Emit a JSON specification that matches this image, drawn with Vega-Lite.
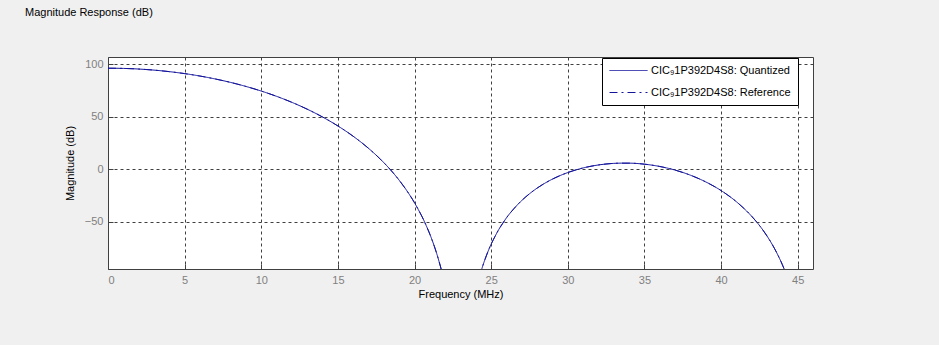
{
  "$schema": "https://vega.github.io/schema/vega-lite/v6.json",
  "autosize": "none",
  "width": 705,
  "height": 212,
  "padding": {"left": 108, "top": 57, "right": 126, "bottom": 76},
  "background": "#f0f0f0",
  "title": {
    "text": "Magnitude Response (dB)",
    "anchor": "start",
    "frame": "group",
    "dx": -83,
    "offset": 39,
    "font": "Liberation Sans",
    "fontSize": 11,
    "fontWeight": "normal",
    "color": "#000000"
  },
  "data": {
    "values": [
      {"f": 0, "db": 96.33}, {"f": 1, "db": 96.13}, {"f": 2, "db": 95.52}, {"f": 3, "db": 94.5},
      {"f": 4, "db": 93.05}, {"f": 5, "db": 91.18}, {"f": 6, "db": 88.86}, {"f": 7, "db": 86.06},
      {"f": 8, "db": 82.78}, {"f": 9, "db": 78.95}, {"f": 10, "db": 74.55}, {"f": 11, "db": 69.52},
      {"f": 12, "db": 63.79}, {"f": 13, "db": 57.26}, {"f": 14, "db": 49.82}, {"f": 15, "db": 41.29},
      {"f": 16, "db": 31.45}, {"f": 17, "db": 19.96}, {"f": 18, "db": 6.29}, {"f": 18.5, "db": -1.61},
      {"f": 19, "db": -10.45}, {"f": 19.5, "db": -20.44}, {"f": 20, "db": -31.89}, {"f": 20.25, "db": -38.46},
      {"f": 20.5, "db": -45.39}, {"f": 20.75, "db": -53.23}, {"f": 21, "db": -61.8}, {"f": 21.15, "db": -67.57},
      {"f": 21.3, "db": -73.67}, {"f": 21.45, "db": -80.38}, {"f": 21.6, "db": -87.78}, {"f": 21.7, "db": -92.99},
      {"f": 21.8, "db": -98.91}, {"f": 21.9, "db": -105.19}, {"f": 22, "db": -112.0},
      {"f": 24, "db": -116.8}, {"f": 24.3, "db": -99.33}, {"f": 24.4, "db": -94.45}, {"f": 24.5, "db": -89.96},
      {"f": 24.7, "db": -81.84}, {"f": 25, "db": -71.32}, {"f": 25.25, "db": -64.03}, {"f": 25.5, "db": -57.31},
      {"f": 25.75, "db": -51.6}, {"f": 26, "db": -46.22}, {"f": 26.5, "db": -37.29}, {"f": 27, "db": -29.68},
      {"f": 27.5, "db": -23.35}, {"f": 28, "db": -17.92}, {"f": 29, "db": -9.34}, {"f": 30, "db": -3.11},
      {"f": 31, "db": 1.28}, {"f": 32, "db": 4.13}, {"f": 33, "db": 5.63}, {"f": 33.5, "db": 5.86},
      {"f": 34, "db": 5.85}, {"f": 35, "db": 4.87}, {"f": 36, "db": 2.69}, {"f": 37, "db": -0.76},
      {"f": 38, "db": -5.6}, {"f": 39, "db": -12.0}, {"f": 40, "db": -20.24}, {"f": 41, "db": -30.89},
      {"f": 42, "db": -44.78}, {"f": 42.5, "db": -53.39}, {"f": 43, "db": -63.59}, {"f": 43.5, "db": -75.81},
      {"f": 43.8, "db": -84.45}, {"f": 43.9, "db": -87.57}, {"f": 44, "db": -90.88}, {"f": 44.1, "db": -94.38},
      {"f": 44.2, "db": -98.07}, {"f": 44.3, "db": -101.98}, {"f": 44.5, "db": -110.6}
    ]
  },
  "encoding": {
    "x": {
      "field": "f",
      "type": "quantitative",
      "scale": {"domain": [0, 46], "nice": false, "zero": false},
      "axis": {
        "title": "Frequency (MHz)",
        "values": [0, 5, 10, 15, 20, 25, 30, 35, 40, 45],
        "grid": true,
        "gridDash": [3, 3],
        "gridColor": "#404040",
        "gridOpacity": 1,
        "domain": false,
        "tickSize": -5,
        "tickColor": "#404040",
        "labelPadding": 10,
        "labelColor": "#808080",
        "labelFont": "Liberation Sans",
        "labelFontSize": 11,
        "titleFont": "Liberation Sans",
        "titleFontSize": 11,
        "titleFontWeight": "normal",
        "titleColor": "#000000",
        "titlePadding": 3
      }
    },
    "y": {
      "field": "db",
      "type": "quantitative",
      "scale": {"domain": [-95, 107], "nice": false, "zero": false},
      "axis": {
        "title": "Magnitude (dB)",
        "values": [-50, 0, 50, 100],
        "grid": true,
        "gridDash": [3, 3],
        "gridColor": "#404040",
        "gridOpacity": 1,
        "domain": false,
        "tickSize": -5,
        "tickColor": "#404040",
        "labelPadding": 10,
        "labelColor": "#808080",
        "labelFont": "Liberation Sans",
        "labelFontSize": 11,
        "titleFont": "Liberation Sans",
        "titleFontSize": 11,
        "titleFontWeight": "normal",
        "titleColor": "#000000",
        "titlePadding": 9
      }
    }
  },
  "layer": [
    {
      "mark": {"type": "line", "clip": true, "strokeWidth": 1, "interpolate": "monotone"},
      "encoding": {
        "color": {"datum": "CIC₉1P392D4S8: Reference"},
        "strokeDash": {"datum": "CIC₉1P392D4S8: Reference"}
      }
    },
    {
      "mark": {"type": "line", "clip": true, "strokeWidth": 1, "interpolate": "monotone"},
      "encoding": {
        "color": {
          "datum": "CIC₉1P392D4S8: Quantized",
          "scale": {
            "domain": ["CIC₉1P392D4S8: Quantized", "CIC₉1P392D4S8: Reference"],
            "range": ["#14149c", "#14149c"]
          },
          "legend": {
            "title": null,
            "orient": "none",
            "legendX": 494,
            "legendY": 1,
            "fillColor": "#ffffff",
            "strokeColor": "#000000",
            "padding": 7,
            "symbolType": "M-1,0H6.6",
            "symbolSize": 100,
            "symbolStrokeWidth": 1,
            "labelFont": "Liberation Sans",
            "labelFontSize": 11,
            "labelColor": "#000000",
            "labelOffset": 31,
            "rowPadding": 10,
            "labelLimit": 300
          }
        },
        "strokeDash": {
          "datum": "CIC₉1P392D4S8: Quantized",
          "scale": {
            "domain": ["CIC₉1P392D4S8: Quantized", "CIC₉1P392D4S8: Reference"],
            "range": [[1, 0], [8, 4, 2, 4]]
          },
          "legend": null
        }
      }
    }
  ],
  "config": {
    "view": {"fill": "#ffffff", "stroke": "#404040", "strokeWidth": 1}
  }
}
